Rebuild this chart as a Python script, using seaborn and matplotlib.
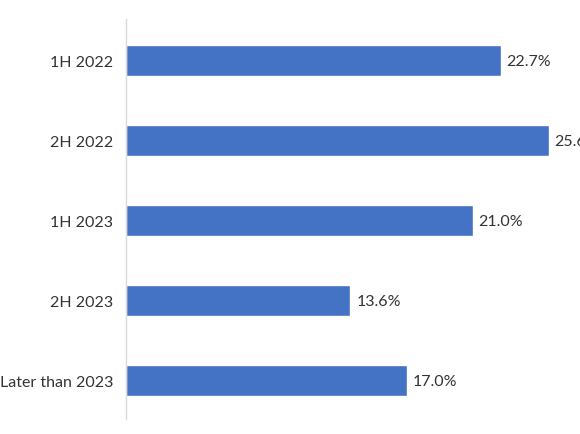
import matplotlib
matplotlib.use("Agg")
import matplotlib.pyplot as plt
import seaborn as sns
import pandas as pd

# Data
periods = ["1H 2022", "2H 2022", "1H 2023", "2H 2023", "Later than 2023"]
shares = [22.7, 25.6, 21.0, 13.6, 17.0]

df = pd.DataFrame({"period": periods, "share": shares})

sns.set_theme(style="white")
plt.rcParams['font.family'] = ['Lato', 'DejaVu Sans']

fig = plt.figure(figsize=(5.8, 4.35), dpi=100)
ax = fig.add_axes([0.217, 0.0345, 0.783, 0.9195])

sns.barplot(data=df, x="share", y="period", orient="h", color="#4472C4",
            saturation=1, width=0.39, ax=ax)

ax.set_xlim(0, 27.5)
ax.set_ylim(4.48, -0.52)

for i, v in enumerate(shares):
    ax.text(v + 0.35, i, f"{v:.1f}%", va="center", ha="left",
            fontsize=11.5, color="#333333")

ax.set_xlabel("")
ax.set_ylabel("")
ax.set_xticks([])
ax.tick_params(axis="y", length=0, pad=9, labelsize=11.5, labelcolor="#333333")
for s in ["top", "right", "bottom"]:
    ax.spines[s].set_visible(False)
ax.spines["left"].set_color("#d9d9d9")
ax.spines["left"].set_linewidth(1)

fig.savefig("out.png", dpi=100)
